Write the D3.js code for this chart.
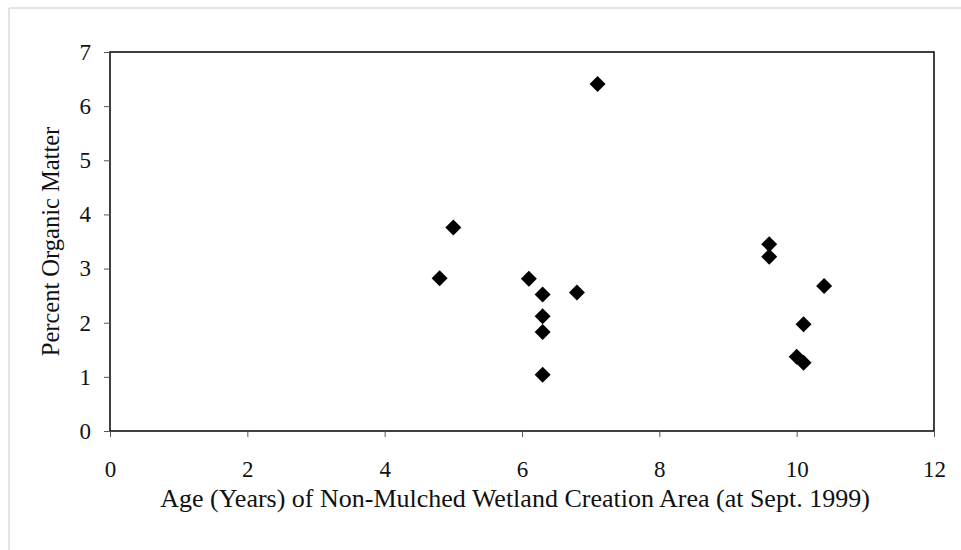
<!DOCTYPE html>
<html>
<head>
<meta charset="utf-8">
<script src="https://cdn.jsdelivr.net/npm/d3@7"></script>
<style>
  body { margin: 0; background: #fff; }
  svg { display: block; font-family: "Liberation Serif", "Times New Roman", serif; }
</style>
</head>
<body>
<script>
// percent organic matter vs. age, non-mulched creation area
const ageYears = [4.8, 5.0, 6.1, 6.3, 6.3, 6.3, 6.3, 6.8, 7.1, 9.6, 9.6, 10.4, 10.1, 10.0, 10.1];
const organicPct = [2.82, 3.76, 2.81, 2.52, 2.12, 1.83, 1.04, 2.56, 6.41, 3.45, 3.22, 2.68, 1.97, 1.37, 1.26];
const xTicks = [0, 2, 4, 6, 8, 10, 12];
const yTicks = [0, 1, 2, 3, 4, 5, 6, 7];

const W = 961, H = 550;
const plot = { left: 110, right: 934, top: 52, bottom: 431 };

const svg = d3.select("body").append("svg")
    .attr("width", W)
    .attr("height", H);

// outer frame (only top/left edge visible in the scan)
svg.append("line").attr("x1", 9).attr("y1", 8).attr("x2", W).attr("y2", 8)
    .attr("stroke", "#c8c8c8").attr("stroke-width", 1);
svg.append("line").attr("x1", 9).attr("y1", 8).attr("x2", 9).attr("y2", H)
    .attr("stroke", "#c8c8c8").attr("stroke-width", 1);

const x = d3.scaleLinear().domain([0, 12]).range([plot.left, plot.right]);
const y = d3.scaleLinear().domain([0, 7]).range([plot.bottom, plot.top]);

// plot box
svg.append("rect")
    .attr("x", plot.left).attr("y", plot.top)
    .attr("width", plot.right - plot.left)
    .attr("height", plot.bottom - plot.top)
    .attr("fill", "none")
    .attr("stroke", "#111")
    .attr("stroke-width", 1.6);

const xAxis = svg.append("g")
    .attr("transform", `translate(0,${plot.bottom})`)
    .call(d3.axisBottom(x).tickValues(xTicks).tickSize(6).tickPadding(24).tickFormat(d3.format("d")));

const yAxis = svg.append("g")
    .attr("transform", `translate(${plot.left},0)`)
    .call(d3.axisLeft(y).tickValues(yTicks).tickSize(6).tickPadding(13).tickFormat(d3.format("d")));

[xAxis, yAxis].forEach(g => {
    g.select(".domain").remove();
    g.selectAll(".tick line").attr("stroke", "#555").attr("stroke-width", 1);
    g.selectAll(".tick text")
        .attr("fill", "#111")
        .style("font-family", "'Liberation Serif', 'Times New Roman', serif")
        .style("font-size", "23px");
});

// points
const diamond = d3.symbol().type(d3.symbolSquare).size(128);
svg.append("g").selectAll("path")
    .data(ageYears.map((a, i) => [a, organicPct[i]]))
    .join("path")
    .attr("d", diamond)
    .attr("transform", d => `translate(${x(d[0])},${y(d[1])}) rotate(45)`)
    .attr("fill", "#000");

// axis titles
svg.append("text")
    .attr("x", 515)
    .attr("y", 507)
    .attr("text-anchor", "middle")
    .attr("fill", "#111")
    .style("font-size", "26px")
    .text("Age (Years) of Non-Mulched Wetland Creation Area (at Sept. 1999)");

svg.append("text")
    .attr("transform", `translate(59,${(plot.top + plot.bottom) / 2}) rotate(-90)`)
    .attr("text-anchor", "middle")
    .attr("fill", "#111")
    .style("font-size", "24.5px")
    .text("Percent Organic Matter");
</script>
</body>
</html>
